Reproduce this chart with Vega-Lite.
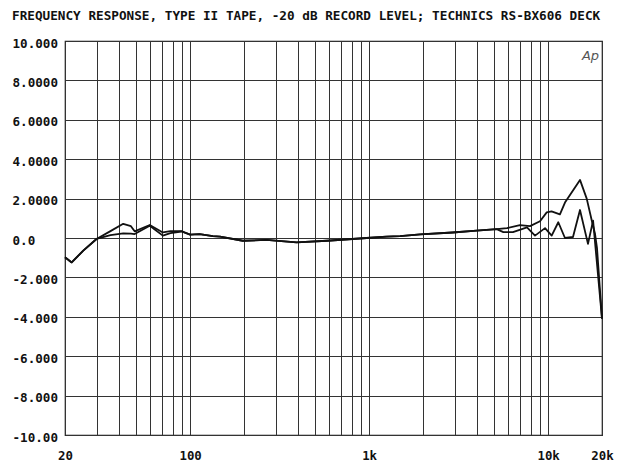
{
  "$schema": "https://vega.github.io/schema/vega-lite/v6.json",
  "width": 537,
  "height": 394,
  "autosize": {"type": "none"},
  "padding": {"left": 65, "top": 41, "right": 24, "bottom": 27},
  "background": "white",
  "config": {
    "view": {"stroke": "#111", "strokeWidth": 1.2},
    "font": "DejaVu Sans Mono"
  },
  "title": {
    "text": "FREQUENCY RESPONSE, TYPE II TAPE, -20 dB RECORD LEVEL; TECHNICS RS-BX606 DECK",
    "anchor": "start",
    "dx": 0,
    "offset": 14,
    "font": "DejaVu Sans Mono",
    "fontSize": 12.7,
    "fontWeight": "bold",
    "color": "#111"
  },
  "datasets": {
    "curves": [
      {"f": 20, "db": -0.98, "s": "A"}, {"f": 21.8, "db": -1.24, "s": "A"}, {"f": 25.3, "db": -0.64, "s": "A"}, {"f": 30, "db": -0.05, "s": "A"},
      {"f": 35.9, "db": 0.35, "s": "A"}, {"f": 42.3, "db": 0.72, "s": "A"}, {"f": 46.7, "db": 0.6, "s": "A"}, {"f": 49, "db": 0.34, "s": "A"},
      {"f": 59.5, "db": 0.66, "s": "A"}, {"f": 70.4, "db": 0.28, "s": "A"}, {"f": 77.6, "db": 0.35, "s": "A"}, {"f": 89.5, "db": 0.35, "s": "A"},
      {"f": 100, "db": 0.17, "s": "A"}, {"f": 113, "db": 0.2, "s": "A"}, {"f": 134, "db": 0.1, "s": "A"}, {"f": 147, "db": 0.07, "s": "A"},
      {"f": 197, "db": -0.14, "s": "A"}, {"f": 267, "db": -0.1, "s": "A"}, {"f": 393, "db": -0.22, "s": "A"}, {"f": 582, "db": -0.14, "s": "A"},
      {"f": 970, "db": 0, "s": "A"}, {"f": 1250, "db": 0.07, "s": "A"}, {"f": 1490, "db": 0.1, "s": "A"}, {"f": 1930, "db": 0.18, "s": "A"},
      {"f": 2930, "db": 0.28, "s": "A"}, {"f": 3980, "db": 0.37, "s": "A"}, {"f": 5165, "db": 0.45, "s": "A"},
      {"f": 5890, "db": 0.5, "s": "A"}, {"f": 6960, "db": 0.65, "s": "A"}, {"f": 7920, "db": 0.6, "s": "A"}, {"f": 9010, "db": 0.85, "s": "A"},
      {"f": 9820, "db": 1.3, "s": "A"}, {"f": 10450, "db": 1.35, "s": "A"}, {"f": 11640, "db": 1.2, "s": "A"}, {"f": 12420, "db": 1.8, "s": "A"},
      {"f": 15070, "db": 2.95, "s": "A"}, {"f": 16430, "db": 2.0, "s": "A"}, {"f": 17520, "db": 0.9, "s": "A"}, {"f": 18290, "db": 0.2, "s": "A"},
      {"f": 18750, "db": -0.5, "s": "A"}, {"f": 20000, "db": -4.1, "s": "A"},

      {"f": 20, "db": -0.98, "s": "B"}, {"f": 21.8, "db": -1.24, "s": "B"}, {"f": 25.3, "db": -0.64, "s": "B"}, {"f": 30, "db": -0.05, "s": "B"},
      {"f": 35.9, "db": 0.15, "s": "B"}, {"f": 42.3, "db": 0.23, "s": "B"}, {"f": 46.7, "db": 0.22, "s": "B"}, {"f": 49, "db": 0.2, "s": "B"},
      {"f": 59.5, "db": 0.62, "s": "B"}, {"f": 70.4, "db": 0.12, "s": "B"}, {"f": 77.6, "db": 0.25, "s": "B"}, {"f": 89.5, "db": 0.33, "s": "B"},
      {"f": 100, "db": 0.17, "s": "B"}, {"f": 113, "db": 0.2, "s": "B"}, {"f": 134, "db": 0.1, "s": "B"}, {"f": 147, "db": 0.07, "s": "B"},
      {"f": 197, "db": -0.14, "s": "B"}, {"f": 267, "db": -0.1, "s": "B"}, {"f": 393, "db": -0.22, "s": "B"}, {"f": 582, "db": -0.14, "s": "B"},
      {"f": 970, "db": 0, "s": "B"}, {"f": 1250, "db": 0.07, "s": "B"}, {"f": 1490, "db": 0.1, "s": "B"}, {"f": 1930, "db": 0.18, "s": "B"},
      {"f": 2930, "db": 0.28, "s": "B"}, {"f": 3980, "db": 0.37, "s": "B"}, {"f": 5165, "db": 0.45, "s": "B"},
      {"f": 5620, "db": 0.3, "s": "B"}, {"f": 6360, "db": 0.3, "s": "B"}, {"f": 7620, "db": 0.54, "s": "B"}, {"f": 8450, "db": 0.12, "s": "B"},
      {"f": 9610, "db": 0.5, "s": "B"}, {"f": 10470, "db": 0.12, "s": "B"}, {"f": 11400, "db": 0.8, "s": "B"}, {"f": 12420, "db": 0.0, "s": "B"},
      {"f": 13770, "db": 0.05, "s": "B"}, {"f": 15070, "db": 1.42, "s": "B"}, {"f": 16700, "db": -0.3, "s": "B"}, {"f": 17830, "db": 0.88, "s": "B"},
      {"f": 20000, "db": -4.1, "s": "B"}
    ],
    "logo": [{"f": 17250, "db": 9.25, "t": "Ap"}]
  },
  "layer": [
    {
      "data": {"name": "curves"},
      "mark": {"type": "line", "color": "#111", "strokeWidth": 1.8, "strokeJoin": "round"},
      "encoding": {
        "x": {
          "field": "f", "type": "quantitative",
          "scale": {"type": "log", "domain": [20, 20000], "nice": false},
          "axis": {
            "title": null,
            "values": [20, 30, 40, 50, 60, 70, 80, 90, 100, 200, 300, 400, 500, 600, 700, 800, 900, 1000, 2000, 3000, 4000, 5000, 6000, 7000, 8000, 9000, 10000, 20000],
            "tickCount": 60,
            "labelExpr": "datum.value == 20 ? '20' : datum.value == 100 ? '100' : datum.value == 1000 ? '1k' : datum.value == 10000 ? '10k' : datum.value == 20000 ? '20k' : ''",
            "labelOverlap": false,
            "labelFlush": false,
            "labelPadding": 14,
            "labelFont": "DejaVu Sans Mono",
            "labelFontSize": 12.4,
            "labelFontWeight": "bold",
            "labelColor": "#111",
            "ticks": false,
            "tickSize": 0,
            "domain": false,
            "grid": true,
            "gridColor": "#333",
            "gridWidth": 1,
            "gridOpacity": 1
          }
        },
        "y": {
          "field": "db", "type": "quantitative",
          "scale": {"domain": [-10, 10], "nice": false},
          "axis": {
            "title": null,
            "values": [-10, -8, -6, -4, -2, 0, 2, 4, 6, 8, 10],
            "tickCount": 30,
            "labelExpr": "datum.value == 10 ? '10.000' : datum.value == 8 ? '8.0000' : datum.value == 6 ? '6.0000' : datum.value == 4 ? '4.0000' : datum.value == 2 ? '2.0000' : datum.value == 0 ? '0.0' : datum.value == -2 ? '-2.000' : datum.value == -4 ? '-4.000' : datum.value == -6 ? '-6.000' : datum.value == -8 ? '-8.000' : '-10.00'",
            "labelAlign": "left",
            "labelBaseline": "middle",
            "labelPadding": 53,
            "labelOffset": 2,
            "labelOverlap": false,
            "labelFlush": false,
            "labelFont": "DejaVu Sans Mono",
            "labelFontSize": 12.6,
            "labelFontWeight": "bold",
            "labelColor": "#111",
            "ticks": false,
            "tickSize": 0,
            "domain": false,
            "grid": true,
            "gridColor": "#333",
            "gridWidth": 1,
            "gridOpacity": 1
          }
        },
        "detail": {"field": "s", "type": "nominal"}
      }
    },
    {
      "data": {"name": "logo"},
      "mark": {"type": "text", "font": "DejaVu Sans", "fontStyle": "italic", "fontSize": 13, "color": "#555", "baseline": "middle", "align": "center"},
      "encoding": {
        "x": {"field": "f", "type": "quantitative"},
        "y": {"field": "db", "type": "quantitative"},
        "text": {"field": "t"}
      }
    }
  ]
}
